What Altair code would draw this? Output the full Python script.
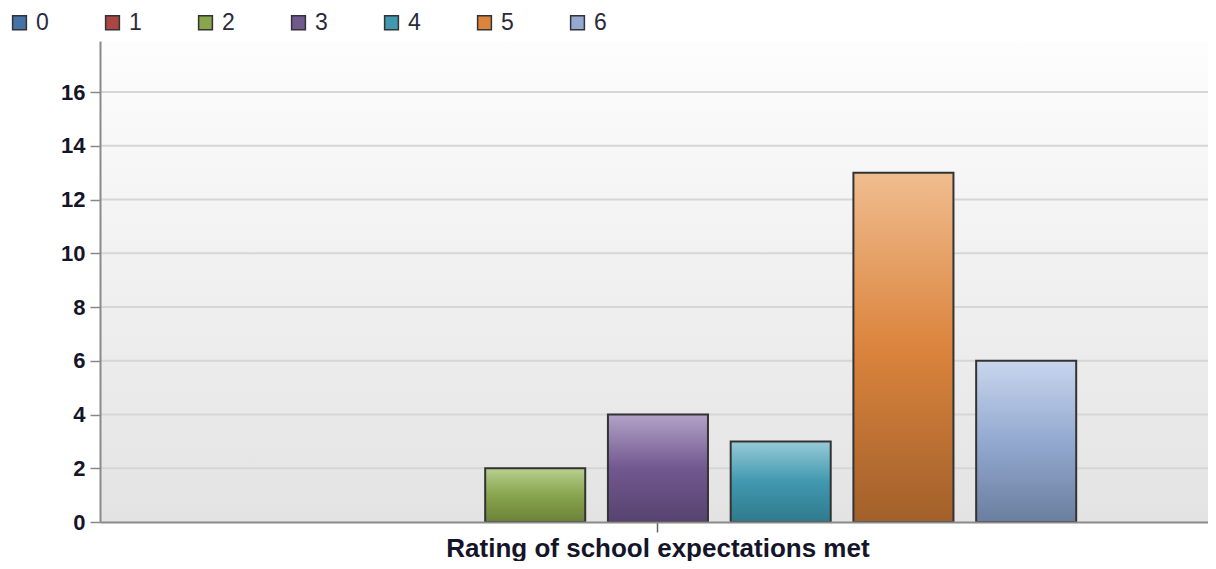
import altair as alt
import pandas as pd

series = ["0", "1", "2", "3", "4", "5", "6"]
values = [0, 0, 2, 4, 3, 13, 6]
category = "Rating of school expectations met"
base_colors = ["#4572A7", "#AA4643", "#89A54E", "#71588F", "#4198AF", "#DB843D", "#93A9CF"]
top_colors = ["#8fa9cf", "#d08f8d", "#b8cf92", "#b3a2c8", "#97cbd8", "#f0bd8f", "#c8d6ee"]
bottom_colors = ["#34557d", "#7f3432", "#6a8238", "#574270", "#2f7a8d", "#a2602a", "#6b7ea0"]
y_ticks = [0, 2, 4, 6, 8, 10, 12, 14, 16]

W, H = 1108, 481
FONT = "Liberation Sans, Arial"

df = pd.DataFrame({"category": [category] * len(series), "series": series, "value": values})
grid_df = pd.DataFrame({"value": y_ticks[1:]})

x_enc = alt.X("category:N", scale=alt.Scale(paddingOuter=0.1434, paddingInner=0, align=0.516),
              axis=alt.Axis(title=None, labelFontSize=26, labelFontWeight="bold", labelColor="#15152a",
                            labelFont=FONT, labelAngle=0, tickSize=10, tickColor="#666", tickWidth=1.5,
                            domainColor="#8a8a8a", domainWidth=2, labelPadding=3, labelLimit=1000,
                            zindex=1))
xo_enc = alt.XOffset("series:N", scale=alt.Scale(paddingInner=0.185, paddingOuter=0.1))
y_enc = alt.Y("value:Q", scale=alt.Scale(domain=[0, 17.9], nice=False),
              axis=alt.Axis(title=None, values=y_ticks, grid=False, labelFontSize=22, labelFontWeight="bold",
                            labelColor="#15152a", labelFont=FONT, tickSize=10, tickColor="#888", tickWidth=1.5,
                            domainColor="#8a8a8a", domainWidth=2, labelPadding=5, zindex=1))

bg = alt.Chart(pd.DataFrame({"a": [0]})).mark_rect(
    fill=alt.LinearGradient(gradient="linear", x1=0, x2=0, y1=0, y2=1,
                            stops=[alt.GradientStop(color="#fdfdfd", offset=0),
                                   alt.GradientStop(color="#e3e3e3", offset=1)])
).encode(x=alt.value(0), x2=alt.value(W), y=alt.value(0), y2=alt.value(H))

grid = alt.Chart(grid_df).mark_rule(color="#d6d6d6", strokeWidth=2).encode(y=y_enc)

legend_bars = alt.Chart(df).mark_bar(strokeWidth=0, opacity=0).encode(
    x=x_enc, xOffset=xo_enc, y=y_enc,
    color=alt.Color("series:N", scale=alt.Scale(domain=series, range=base_colors),
                    legend=alt.Legend(title=None, orient="none", legendX=-92, legendY=-30,
                                      direction="horizontal", columns=7, symbolType="square",
                                      symbolSize=190, symbolStrokeColor="#333", symbolStrokeWidth=1.5,
                                      symbolOpacity=1,
                                      labelFontSize=23, labelFont=FONT, labelColor="#2a2a3a",
                                      labelOffset=5, columnPadding=52)))

layers = [bg, grid, legend_bars]
for s, tc, bc, mc in zip(series, top_colors, bottom_colors, base_colors):
    g = alt.LinearGradient(gradient="linear", x1=0, x2=0, y1=0, y2=1,
                           stops=[alt.GradientStop(color=tc, offset=0),
                                  alt.GradientStop(color=mc, offset=0.5),
                                  alt.GradientStop(color=bc, offset=1)])
    layers.append(alt.Chart(df).transform_filter(
        (alt.datum.series == s) & (alt.datum.value > 0)).mark_bar(
        fill=g, stroke="#333", strokeWidth=2).encode(x=x_enc, xOffset=xo_enc, y=y_enc))

chart = alt.layer(*layers).properties(
    width=W, height=H, autosize="none",
    padding={"left": 92, "top": 33, "right": 0, "bottom": 39}
).configure_view(stroke=None)

chart.save("out.html", embed_options={"renderer": "svg", "actions": False})
